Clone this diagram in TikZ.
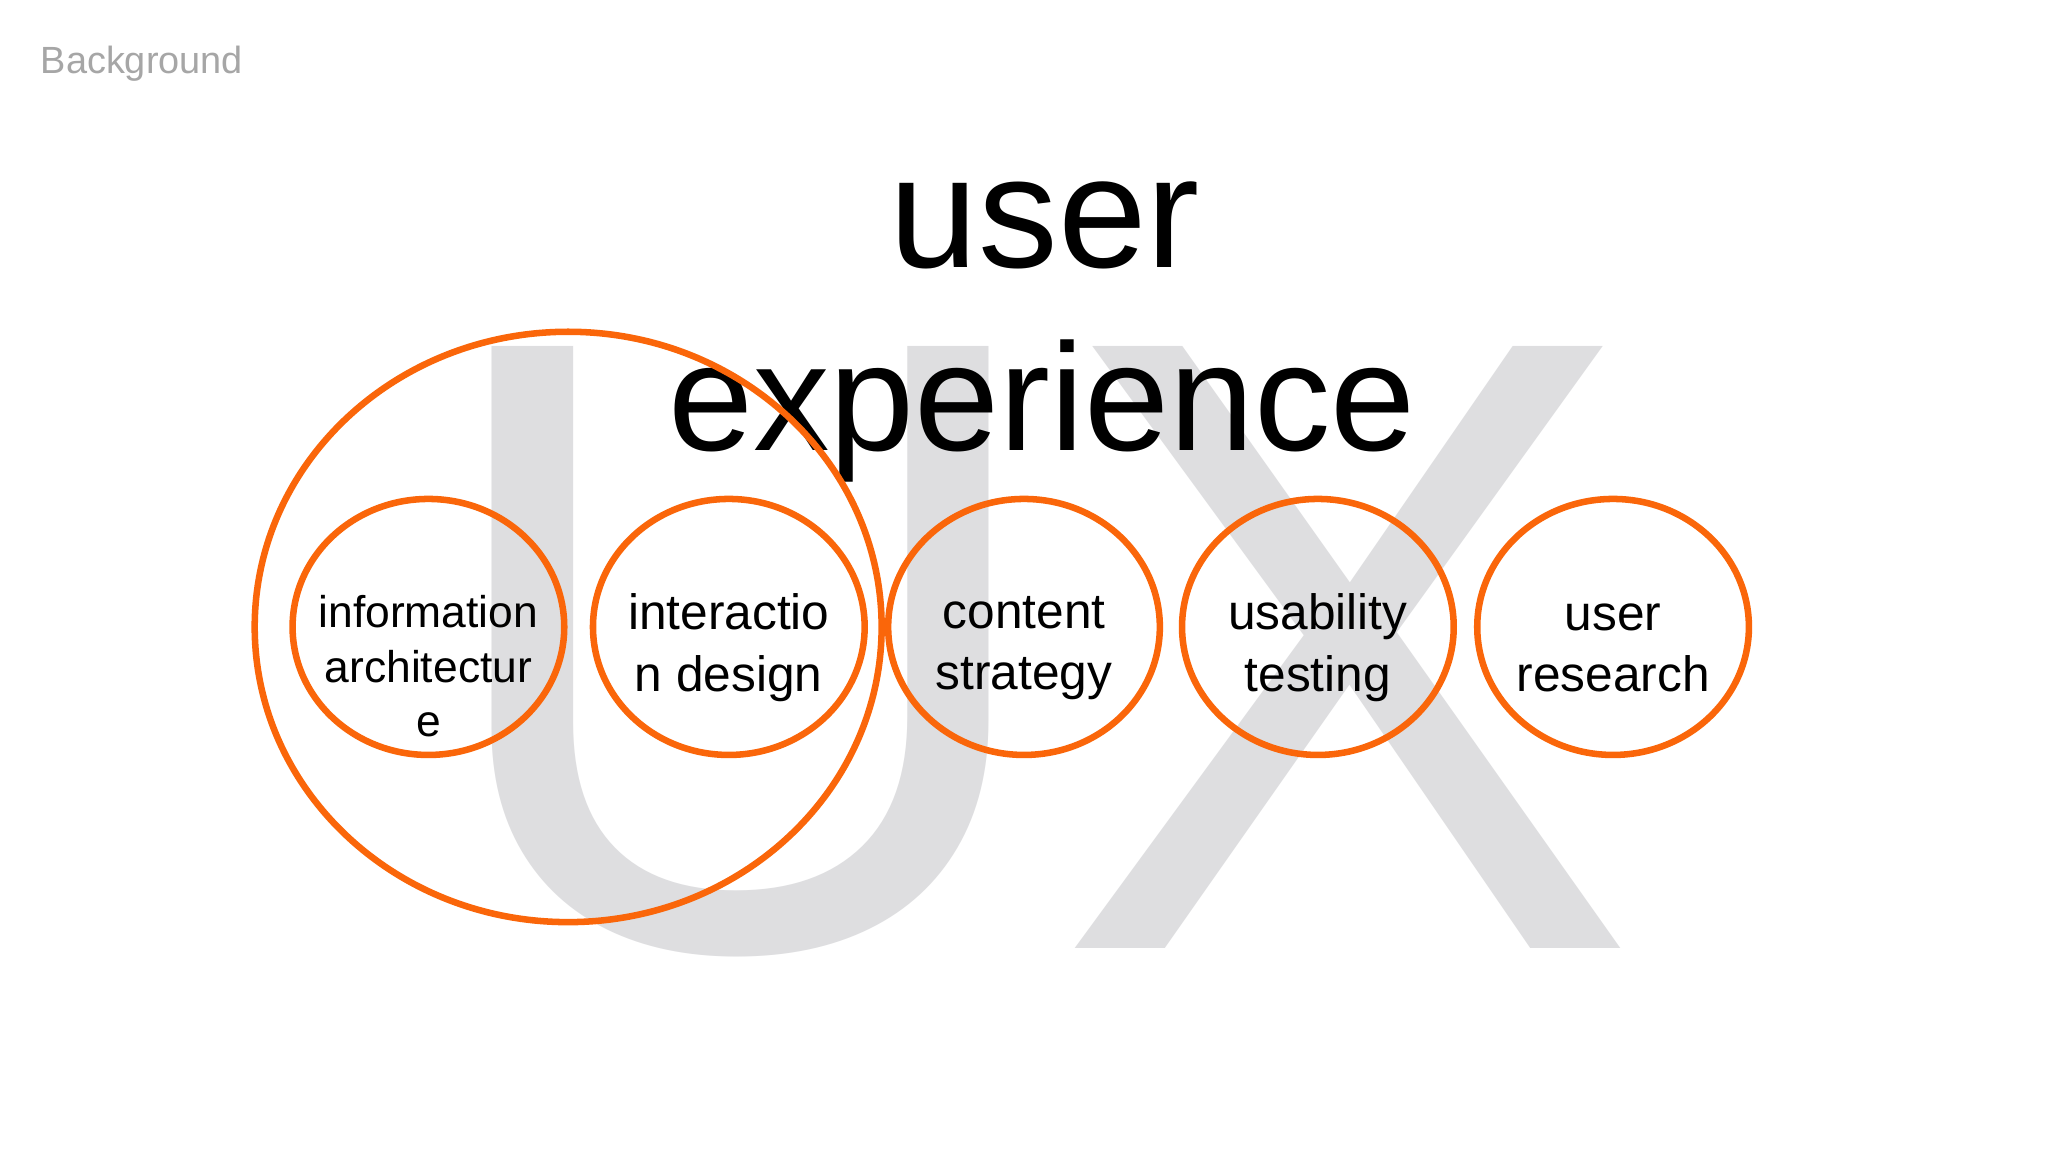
\documentclass[tikz,border=0pt]{standalone}
\usepackage{fontspec}
\setmainfont{Liberation Sans}
\definecolor{ux}{RGB}{222,222,224}
\definecolor{orng}{RGB}{250,102,10}
\newcommand{\fs}[1]{\fontsize{#1bp}{#1bp}\selectfont}
\begin{document}
\begin{tikzpicture}[x=1bp,y=-1bp,
  ring/.style={draw=orng,line width=5bp},
  lbl/.style={align=center,inner sep=0pt,font=\fs{38},text=black},
  lbls/.style={align=center,inner sep=0pt,font=\fs{34},text=black}]
\useasboundingbox[fill=white] (0,0) rectangle (1568,882);
\node[anchor=base west,inner sep=0pt,text=gray!70,font=\fs{29}] (bg) at (31,56) {Background};
\node[anchor=base,inner sep=0pt,text=ux,font=\fs{670}] (uxt) at (790,726) {UX};
\node[anchor=base,inner sep=0pt,font=\fs{122}] (t1) at (800,205) {user};
\node[anchor=base,inner sep=0pt,font=\fs{117}] (t2) at (798,345) {experience};
\draw[ring] (435,480) ellipse [x radius=240,y radius=226];
\foreach \n/\x in {a/328,b/558,c/784,d/1009,e/1235}
  \draw[ring] (\x,480) ellipse [x radius=104,y radius=98];
\node[lbls] (ia) at (328,510) {information\\[8bp]architectur\\[8bp]e};
\node[lbl] (id) at (558,496) {interactio\\[9bp]n design};
\node[lbl] (cs) at (784,496) {content\\[9bp]strategy};
\node[lbl] (ut) at (1009,496) {usability\\[9bp]testing};
\node[lbl] (ur) at (1235,496) {user\\[9bp]research};
\end{tikzpicture}
\end{document}
